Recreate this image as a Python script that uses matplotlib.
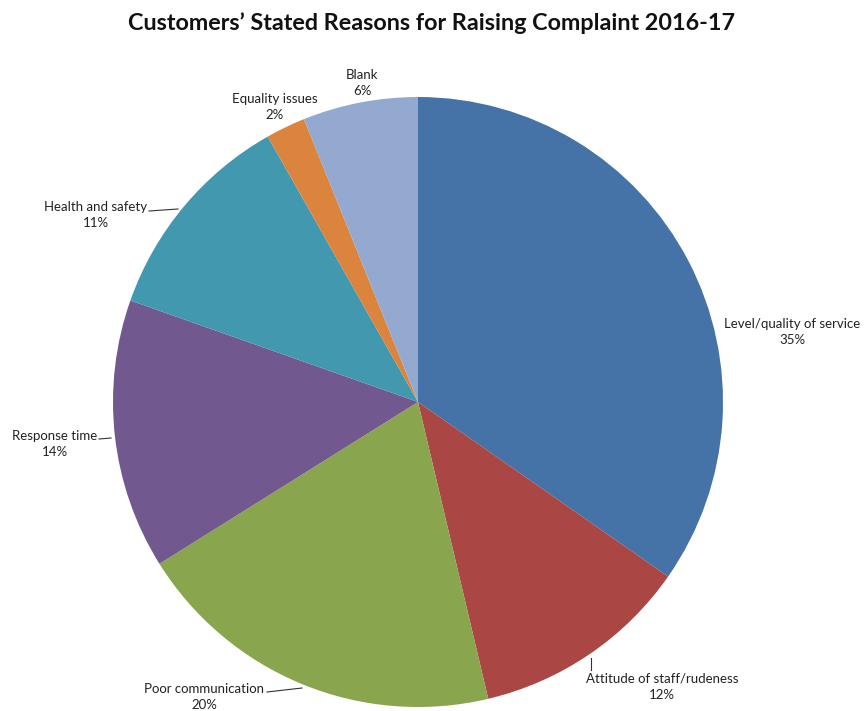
import matplotlib
matplotlib.use('Agg')
from matplotlib import pyplot as plt

reasons = ['Level/quality of service', 'Attitude of staff/rudeness', 'Poor communication',
           'Response time', 'Health and safety', 'Equality issues', 'Blank']
shares = [34.7, 11.6, 19.8, 14.3, 11.4, 2.1, 6.1]
colours = ['#4572A7', '#AA4643', '#89A54E', '#71588F', '#4198AF', '#DB843D', '#93A9CF']

plt.rcParams['font.family'] = ['Lato', 'DejaVu Sans']

W, H = 864, 711
CX, CY, R = 418, 402, 305


def to_data(px, py):
    # pixel position (from top-left) -> data coordinates of the pie
    return (px - CX) / R, (CY - py) / R


fig = plt.figure(figsize=(W / 100, H / 100), dpi=100)
ax = fig.add_axes([0, 0, 1, 1])
ax.pie(shares, colors=colours, startangle=90, counterclock=False,
       wedgeprops=dict(linewidth=0))
ax.set_aspect('auto')
ax.set_xlim(-CX / R, (W - CX) / R)
ax.set_ylim(-(H - CY) / R, CY / R)
ax.axis('off')

# label block centres and leader lines (pixels)
label_pos = [(792, 332), (662, 687), (204, 697), (55, 444), (96, 215), (275, 107), (362, 83)]
leaders = {
    1: [(591, 658), (591, 670)],
    2: [(267, 692), (302, 688)],
    3: [(99, 439), (111, 438)],
    4: [(149, 211), (178, 209)],
}

for i, (name, v) in enumerate(zip(reasons, shares)):
    x, y = to_data(*label_pos[i])
    ax.text(x, y, name + '\n' + str(round(v)) + '%', ha='center', va='center',
            fontsize=9.5, color='#222222', linespacing=1.45)
    if i in leaders:
        pts = [to_data(*p) for p in leaders[i]]
        ax.plot([p[0] for p in pts], [p[1] for p in pts], color='#333333', lw=0.8)

fig.text(0.5, 1 - 23 / H, 'Customers\u2019 Stated Reasons for Raising Complaint 2016-17',
         ha='center', va='center', fontsize=16.8, fontweight='bold', color='#111111')

fig.savefig('out.png', dpi=100)
